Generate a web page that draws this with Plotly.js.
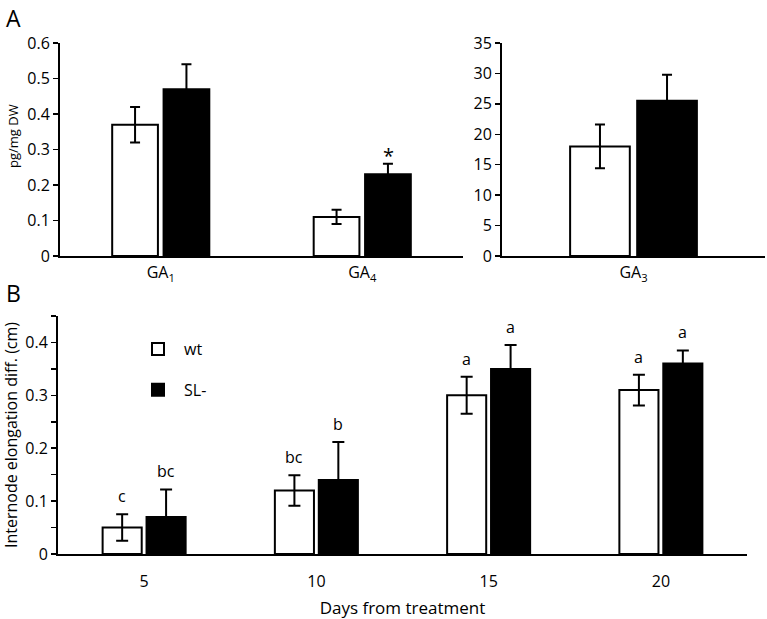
<!DOCTYPE html>
<html><head><meta charset="utf-8">
<script src="https://cdn.plot.ly/plotly-3.0.1.min.js"></script>
<style>html,body{margin:0;padding:0;background:#fff}#chart{width:767px;height:619px}</style>
</head><body><div id="chart"></div><script>
// ---- data ----
const seriesNames = ['wt', 'SL-'];
const gaCats = ['GA<sub>1</sub>', 'GA<sub>4</sub>'];
const gaWt = [0.37, 0.11];
const gaWtErr = [0.05, 0.02];
const gaSl = [0.47, 0.23];
const gaSlErr = [0.07, 0.03];
const gaSlSig = ['', '*'];
const ga3Cats = ['GA<sub>3</sub>'];
const ga3Wt = [18.0];
const ga3WtErr = [3.6];
const ga3Sl = [25.5];
const ga3SlErr = [4.3];
const days = ['5', '10', '15', '20'];
const elongWt = [0.05, 0.12, 0.30, 0.31];
const elongWtErr = [0.025, 0.029, 0.035, 0.029];
const elongSl = [0.07, 0.14, 0.35, 0.36];
const elongSlErr = [0.052, 0.072, 0.045, 0.025];
const lettersWt = ['c', 'bc', 'a', 'a'];
const lettersSl = ['bc', 'b', 'a', 'a'];
const yTicksGa = [0, 0.1, 0.2, 0.3, 0.4, 0.5, 0.6];
const yTicksGa3 = [0, 5, 10, 15, 20, 25, 30, 35];
const yTicksElong = [0, 0.1, 0.2, 0.3, 0.4];

// ---- styles ----
const FONT = 'Open Sans, sans-serif';
const W = 767, H = 619;
const px = v => v / W;
const py = v => 1 - v / H;
const whiteBar = {color: '#ffffff', line: {color: '#000', width: 2}};
const blackBar = {color: '#000000', line: {color: '#000', width: 2}};
function err(arr, w) { return {type: 'data', array: arr, visible: true, color: '#000', thickness: 2, width: w}; }

const traces = [
  {type: 'bar', x: gaCats, y: gaWt, name: seriesNames[0], marker: whiteBar, error_y: err(gaWtErr, 5), xaxis: 'x', yaxis: 'y', showlegend: false},
  {type: 'bar', x: gaCats, y: gaSl, name: seriesNames[1], marker: blackBar, error_y: err(gaSlErr, 5), xaxis: 'x', yaxis: 'y', showlegend: false},
  {type: 'bar', x: ga3Cats, y: ga3Wt, name: seriesNames[0], marker: whiteBar, error_y: err(ga3WtErr, 5), xaxis: 'x2', yaxis: 'y2', showlegend: false},
  {type: 'bar', x: ga3Cats, y: ga3Sl, name: seriesNames[1], marker: blackBar, error_y: err(ga3SlErr, 5), xaxis: 'x2', yaxis: 'y2', showlegend: false},
  {type: 'bar', x: days, y: elongWt, name: seriesNames[0], marker: whiteBar, error_y: err(elongWtErr, 6), xaxis: 'x3', yaxis: 'y3', legendgroup: 'g1'},
  {type: 'bar', x: days, y: elongSl, name: seriesNames[1], marker: blackBar, error_y: err(elongSlErr, 6), xaxis: 'x3', yaxis: 'y3', legendgroup: 'g2'}
];

const annotations = [];
annotations.push({text: 'A', xref: 'paper', yref: 'paper', x: px(4), y: py(0), xanchor: 'left', yanchor: 'top', showarrow: false, font: {size: 23, family: FONT, color: '#000'}});
annotations.push({text: 'B', xref: 'paper', yref: 'paper', x: px(4), y: py(275), xanchor: 'left', yanchor: 'top', showarrow: false, font: {size: 23, family: FONT, color: '#000'}});
annotations.push({text: 'pg/mg DW', xref: 'paper', yref: 'paper', x: px(13), y: py(136), xanchor: 'center', yanchor: 'middle', textangle: -90, showarrow: false, font: {size: 13, family: FONT, color: '#000'}});
gaCats.forEach((c, i) => {
  if (gaSlSig[i]) annotations.push({text: gaSlSig[i], x: i, y: gaSl[i] + gaSlErr[i], xref: 'x', yref: 'y', xshift: 26, yshift: -7, yanchor: 'bottom', showarrow: false, font: {size: 20, family: FONT, color: '#000'}});
});
days.forEach((d, i) => {
  annotations.push({text: lettersWt[i], x: i, y: elongWt[i] + elongWtErr[i], xref: 'x3', yref: 'y3', xshift: -22, yshift: 5, yanchor: 'bottom', showarrow: false, font: {size: 16, family: FONT, color: '#000'}});
  annotations.push({text: lettersSl[i], x: i, y: elongSl[i] + elongSlErr[i], xref: 'x3', yref: 'y3', xshift: 22, yshift: 5, yanchor: 'bottom', showarrow: false, font: {size: 16, family: FONT, color: '#000'}});
});

const yBase = {showgrid: false, zeroline: false, showline: true, linecolor: '#000', linewidth: 2, ticks: 'outside', ticklen: 5, tickwidth: 1.5, tickcolor: '#000', tickfont: {size: 16, family: FONT, color: '#000'}, fixedrange: true};
const xBase = {showgrid: false, zeroline: false, showline: true, linecolor: '#000', linewidth: 2, ticks: '', tickfont: {size: 16, family: FONT, color: '#000'}, type: 'category', fixedrange: true};

const layout = {
  width: W, height: H,
  margin: {l: 0, r: 0, t: 0, b: 0},
  paper_bgcolor: '#fff', plot_bgcolor: '#fff',
  font: {family: FONT, color: '#000'},
  barmode: 'group', bargap: 0.49, bargroupgap: 0.11,
  showlegend: true,
  legend: {x: px(132), y: py(332), xanchor: 'left', yanchor: 'top', itemwidth: 42, tracegroupgap: 17, traceorder: 'grouped', font: {size: 16, family: FONT, color: '#000'}, bgcolor: 'rgba(0,0,0,0)'},
  xaxis: Object.assign({}, xBase, {domain: [px(60), px(463)], anchor: 'y', range: [-0.5, gaCats.length - 0.5], ticklabelstandoff: 1}),
  yaxis: Object.assign({}, yBase, {domain: [py(256), py(43)], anchor: 'x', range: [0, 0.6], tickvals: yTicksGa}),
  xaxis2: Object.assign({}, xBase, {domain: [px(502), px(765)], anchor: 'y2', range: [-0.5, ga3Cats.length - 0.5], ticklabelstandoff: 1}),
  yaxis2: Object.assign({}, yBase, {domain: [py(256), py(43)], anchor: 'x2', range: [0, 35], tickvals: yTicksGa3}),
  xaxis3: Object.assign({}, xBase, {domain: [px(58), px(747)], anchor: 'y3', range: [-0.5, days.length - 0.5], ticklabelstandoff: 12, title: {text: 'Days from treatment', font: {size: 17, family: FONT, color: '#000'}, standoff: 18}}),
  yaxis3: Object.assign({}, yBase, {domain: [py(554), py(316)], anchor: 'x3', range: [0, 0.45], tickvals: yTicksElong, minor: {dtick: 0.05, ticks: 'outside', ticklen: 5, tickwidth: 1.5, tickcolor: '#000'}, title: {text: 'Internode elongation diff. (cm)', font: {size: 16, family: FONT, color: '#000'}, standoff: 6}}),
  annotations: annotations
};

Plotly.newPlot('chart', traces, layout, {staticPlot: true, displayModeBar: false});
</script></body></html>
